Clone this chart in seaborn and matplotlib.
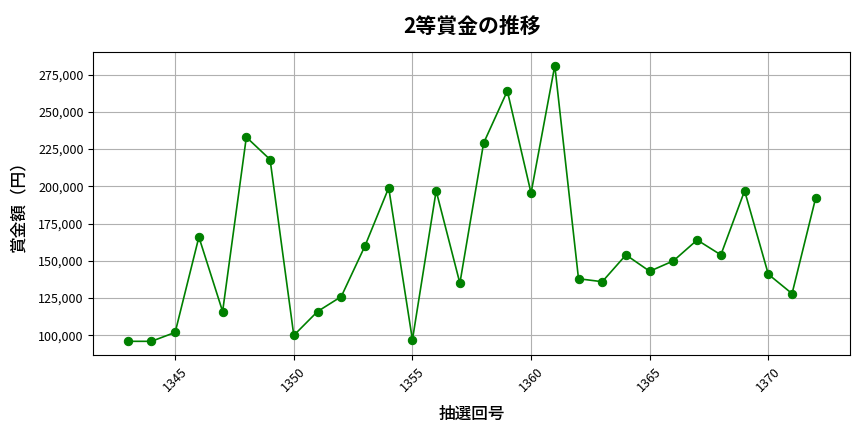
import pandas as pd
import seaborn as sns
import matplotlib.pyplot as plt
from matplotlib.ticker import FuncFormatter

# 2等賞金の推移
draws = list(range(1343, 1373))
prize = [96000, 96000, 102000, 166000, 116000, 233000, 218000, 100000, 116000, 126000,
         160000, 199000, 97000, 197000, 135000, 229000, 264000, 195500, 281000, 138000,
         136000, 154000, 143000, 150000, 164000, 154000, 197000, 141000, 128000, 192500]

df = pd.DataFrame({'draw': draws, 'prize': prize})

plt.rcParams['font.family'] = ['Noto Sans CJK JP', 'DejaVu Sans']

fig, ax = plt.subplots(figsize=(8.64, 4.32), dpi=100)
sns.lineplot(data=df, x='draw', y='prize', marker='o', color='green',
             markersize=6, markeredgecolor='green', linewidth=1.2, ax=ax)
ax.set_title('2等賞金の推移', fontsize=15, pad=14, fontweight='bold')
ax.set_xlabel('抽選回号', fontsize=12, labelpad=8, fontweight='medium')
ax.set_ylabel('賞金額（円）', fontsize=12, labelpad=8, fontweight='medium')
ax.yaxis.set_major_formatter(FuncFormatter(lambda v, p: f'{int(v):,}'))
plt.xticks(rotation=45)
ax.tick_params(labelsize=9)
ax.grid(True, color='#b0b0b0', linewidth=0.8)
plt.subplots_adjust(left=0.108, right=0.984, top=0.88, bottom=0.178)
plt.savefig('out.png')
